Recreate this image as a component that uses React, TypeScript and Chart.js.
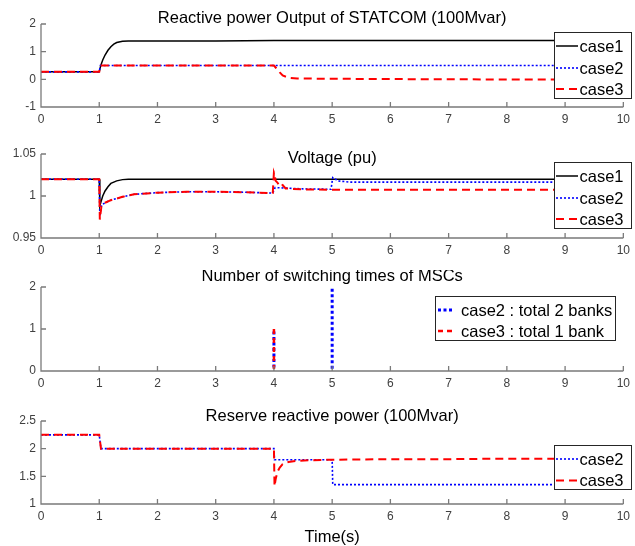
import React, { useEffect, useRef } from "react";
import { Chart, registerables } from "chart.js";

Chart.register(...registerables);

const FONT = '"Liberation Sans", Arial, Helvetica, sans-serif';
const AXIS_COLOR = "#7a7a7a";
const TICK_COLOR = "#404040";
const BLACK = "#000000";
const BLUE = "#0000ff";
const RED = "#ff0000";

// ---- Reactive power output of STATCOM (100Mvar) ----
const qTime1 = [0, 1, 1.02, 1.04, 1.06, 1.1, 1.15, 1.2, 1.25, 1.3, 1.4, 1.5, 1.7, 2, 3, 4, 5, 6, 7, 8, 9, 10];
const qCase1 = [0.27, 0.27, 0.45, 0.58, 0.7, 0.88, 1.05, 1.18, 1.27, 1.33, 1.38, 1.39, 1.39, 1.39, 1.39, 1.4, 1.4, 1.4, 1.4, 1.4, 1.4, 1.4];
const qTime2 = [0, 1, 1.02, 4, 5, 10];
const qCase2 = [0.27, 0.27, 0.5, 0.5, 0.5, 0.5];
const qTime3 = [0, 1, 1.02, 4, 4.04, 4.1, 4.15, 4.25, 4.4, 5, 7, 10];
const qCase3 = [0.27, 0.27, 0.5, 0.5, 0.4, 0.25, 0.14, 0.06, 0.03, 0.02, 0.0, -0.01];

// ---- Voltage (pu) ----
const vTime1 = [0, 1, 1.01, 1.03, 1.06, 1.1, 1.15, 1.2, 1.3, 1.4, 1.5, 1.7, 4, 5, 10];
const vCase1 = [1.02, 1.02, 0.988, 0.993, 1.0, 1.006, 1.011, 1.015, 1.018, 1.0195, 1.02, 1.02, 1.02, 1.02, 1.02];
const vTime2 = [0, 1, 1.01, 1.04, 1.1, 1.2, 1.4, 1.6, 2, 2.5, 3, 3.5, 3.98, 4.02, 4.5, 4.98, 5.01, 5.1, 5.3, 6, 10];
const vCase2 = [1.02, 1.02, 0.976, 0.989, 0.992, 0.995, 0.999, 1.002, 1.004, 1.005, 1.005, 1.0045, 1.0035, 1.01, 1.0085, 1.008, 1.022, 1.018, 1.0165, 1.0165, 1.0165];
const vTime3 = [0, 1, 1.01, 1.04, 1.1, 1.2, 1.4, 1.6, 2, 2.5, 3, 3.5, 3.98, 4.0, 4.01, 4.03, 4.06, 4.1, 4.15, 4.2, 4.3, 4.5, 5, 6, 10];
const vCase3 = [1.02, 1.02, 0.972, 0.989, 0.992, 0.995, 0.999, 1.002, 1.004, 1.005, 1.005, 1.0045, 1.0035, 1.028, 1.026, 1.018, 1.016, 1.011, 1.013, 1.009, 1.0085, 1.0078, 1.0075, 1.0074, 1.0074];

// ---- Number of switching times of MSCs (null ends each switching pulse) ----
const sTime2 = [0, 4, 4, 4, 4, 5, 5, 5, 5, 10];
const sCase2 = [0, 0, 1, null, 0, 0, 2, null, 0, 0];
const sTime3 = [0, 4, 4, 4, 4, 10];
const sCase3 = [0, 0, 1, null, 0, 0];

// ---- Reserve reactive power (100Mvar) ----
const rTime2 = [0, 1, 1.03, 4, 4.01, 5, 5.01, 10];
const rCase2 = [2.25, 2.25, 2.0, 2.0, 1.8, 1.8, 1.35, 1.35];
const rTime3 = [0, 1, 1.03, 4, 4.01, 4.03, 4.06, 4.1, 4.15, 4.25, 4.4, 4.6, 5, 6, 7, 8, 9, 10];
const rCase3 = [2.25, 2.25, 2.0, 2.0, 1.32, 1.45, 1.58, 1.66, 1.72, 1.76, 1.78, 1.79, 1.8, 1.81, 1.81, 1.82, 1.82, 1.82];

type Series = {
  label: string;
  time: number[];
  values: (number | null)[];
  color: string;
  width: number;
  dash: number[];
  order: number;
};

type LegendSpec = {
  x: number;
  y: number;
  w: number;
  h: number;
  rows: number[];
  lineX0: number;
  lineX1: number;
  textX: number;
};

type Panel = {
  top: number;
  height: number;
  areaTop: number;
  areaBottom: number;
  yMin: number;
  yMax: number;
  yStep: number;
  title: string;
  titleY: number;
  xLabel?: string;
  xLabelY?: number;
  series: Series[];
  legend: LegendSpec;
  clipBottom?: number;
};

const solid1 = (label: string, time: number[], values: (number | null)[]): Series => ({
  label, time, values, color: BLACK, width: 1.5, dash: [], order: 2,
});
const dotted2 = (label: string, time: number[], values: (number | null)[], w = 1.6): Series => ({
  label, time, values, color: BLUE, width: w, dash: [2, 2], order: 1,
});
const dashed3 = (label: string, time: number[], values: (number | null)[], w = 2): Series => ({
  label, time, values, color: RED, width: w, dash: [8, 5], order: 0,
});

const wideLegend = (y: number, rows: number[]): LegendSpec => ({
  x: 554, y, w: 78, h: rows.length === 3 ? 67 : 45, rows, lineX0: 556, lineX1: 578, textX: 579.5,
});

const PANELS: Panel[] = [
  {
    top: 0, height: 130, areaTop: 24, areaBottom: 107,
    yMin: -1, yMax: 2, yStep: 1,
    title: "Reactive power Output of STATCOM (100Mvar)", titleY: 23,
    series: [
      solid1("case1", qTime1, qCase1),
      dotted2("case2", qTime2, qCase2),
      dashed3("case3", qTime3, qCase3),
    ],
    legend: wideLegend(32, [46, 68, 89]),
  },
  {
    top: 130, height: 140, areaTop: 24, areaBottom: 108,
    yMin: 0.95, yMax: 1.05, yStep: 0.05,
    title: "Voltage (pu)", titleY: 33,
    series: [
      solid1("case1", vTime1, vCase1),
      dotted2("case2", vTime2, vCase2),
      dashed3("case3", vTime3, vCase3),
    ],
    legend: wideLegend(32, [46, 68, 89]),
  },
  {
    top: 270, height: 120, areaTop: 17, areaBottom: 101,
    yMin: 0, yMax: 2, yStep: 1,
    title: "Number of switching times of MSCs", titleY: 10.5,
    series: [
      { ...dotted2("case2 : total 2 banks", sTime2, sCase2, 3), dash: [3, 2.5] },
      { ...dashed3("case3 : total 1 bank", sTime3, sCase3, 2.5), dash: [5, 4] },
    ],
    legend: { x: 435, y: 26, w: 181, h: 45, rows: [40, 61], lineX0: 438, lineX1: 452, textX: 461 },
    clipBottom: -2,
  },
  {
    top: 390, height: 156, areaTop: 31, areaBottom: 114,
    yMin: 1, yMax: 2.5, yStep: 0.5,
    title: "Reserve reactive power (100Mvar)", titleY: 31,
    xLabel: "Time(s)", xLabelY: 151.5,
    series: [
      dotted2("case2", rTime2, rCase2),
      dashed3("case3", rTime3, rCase3),
    ],
    legend: wideLegend(55, [69, 90.5]),
  },
];

// shortest form of a tick value: 1, 1.05, 0.95, 2.5
const fmtTick = (v: number | string) => String(Number(Number(v).toFixed(4)));

function makeDecorPlugin(panel: Panel) {
  return {
    id: "matlabDecor",
    afterDatasetsDraw(chart: any) {
      const { ctx, chartArea: a, scales } = chart;
      ctx.save();
      ctx.strokeStyle = AXIS_COLOR;
      ctx.lineWidth = 1.3;
      ctx.beginPath();
      ctx.moveTo(a.left, a.top);
      ctx.lineTo(a.left, a.bottom);
      ctx.lineTo(a.right, a.bottom);
      for (const t of scales.x.ticks) {
        const px = scales.x.getPixelForValue(t.value);
        ctx.moveTo(px, a.bottom);
        ctx.lineTo(px, a.bottom - 5);
      }
      for (const t of scales.y.ticks) {
        const py = scales.y.getPixelForValue(t.value);
        ctx.moveTo(a.left, py);
        ctx.lineTo(a.left + 5, py);
      }
      ctx.stroke();
      ctx.restore();
    },
    afterDraw(chart: any) {
      const { ctx, chartArea: a } = chart;
      ctx.save();
      ctx.fillStyle = "#000";
      ctx.font = `16.5px ${FONT}`;
      ctx.textAlign = "center";
      ctx.textBaseline = "alphabetic";
      ctx.fillText(panel.title, (a.left + a.right) / 2, panel.titleY);
      if (panel.xLabel && panel.xLabelY) {
        ctx.fillText(panel.xLabel, (a.left + a.right) / 2, panel.xLabelY);
      }

      // boxed legend
      const L = panel.legend;
      ctx.fillStyle = "#ffffff";
      ctx.fillRect(L.x, L.y, L.w, L.h);
      ctx.strokeStyle = "#262626";
      ctx.lineWidth = 1;
      ctx.strokeRect(L.x + 0.5, L.y + 0.5, L.w - 1, L.h - 1);
      ctx.textAlign = "left";
      ctx.textBaseline = "middle";
      panel.series.forEach((s, i) => {
        const y = L.rows[i];
        ctx.beginPath();
        ctx.strokeStyle = s.color;
        ctx.lineWidth = s.width;
        ctx.setLineDash(s.dash);
        ctx.moveTo(L.lineX0, y);
        ctx.lineTo(L.lineX1, y);
        ctx.stroke();
        ctx.setLineDash([]);
        ctx.fillStyle = "#000";
        ctx.fillText(s.label, L.textX, y + 1);
      });
      ctx.restore();
    },
  };
}

function PanelChart({ panel }: { panel: Panel }) {
  const ref = useRef<HTMLCanvasElement | null>(null);

  useEffect(() => {
    if (!ref.current) return;
    const tickFont = { family: FONT, size: 12 };
    const chart = new Chart(ref.current, {
      type: "line",
      data: {
        datasets: panel.series.map((s) => ({
          label: s.label,
          data: s.time.map((t, i) => ({ x: t, y: s.values[i] })),
          borderColor: s.color,
          backgroundColor: s.color,
          borderWidth: s.width,
          borderDash: s.dash,
          pointRadius: 0,
          fill: false,
          tension: 0,
          order: s.order,
          spanGaps: false,
          clip: panel.clipBottom !== undefined
            ? { left: 0, top: 0, right: 0, bottom: panel.clipBottom }
            : undefined,
        })) as any,
      },
      options: {
        responsive: false,
        animation: false,
        devicePixelRatio: 1,
        events: [],
        layout: { padding: { top: panel.areaTop, right: 8, bottom: 0, left: 0 } },
        plugins: {
          legend: { display: false },
          title: { display: false },
          tooltip: { enabled: false },
        },
        scales: {
          x: {
            type: "linear",
            min: 0,
            max: 10,
            ticks: { stepSize: 1, padding: 5, color: TICK_COLOR, font: tickFont, maxRotation: 0, callback: fmtTick },
            grid: { display: false, drawTicks: false },
            border: { display: false },
            afterFit: (s: any) => {
              s.height = panel.height - panel.areaBottom;
            },
          },
          y: {
            type: "linear",
            min: panel.yMin,
            max: panel.yMax,
            ticks: { stepSize: panel.yStep, padding: 5, color: TICK_COLOR, font: tickFont, callback: fmtTick },
            grid: { display: false, drawTicks: false },
            border: { display: false },
            afterFit: (s: any) => {
              s.width = 41;
            },
          },
        },
      } as any,
      plugins: [makeDecorPlugin(panel)],
    });
    return () => chart.destroy();
  }, [panel]);

  return (
    <canvas
      ref={ref}
      width={635}
      height={panel.height}
      style={{ position: "absolute", left: 0, top: panel.top, width: 635, height: panel.height }}
    />
  );
}

export default function App() {
  return (
    <div
      style={{
        position: "absolute",
        left: 0,
        top: 0,
        width: 635,
        height: 546,
        background: "#ffffff",
        overflow: "hidden",
      }}
    >
      {PANELS.map((p, i) => (
        <PanelChart key={i} panel={p} />
      ))}
    </div>
  );
}
